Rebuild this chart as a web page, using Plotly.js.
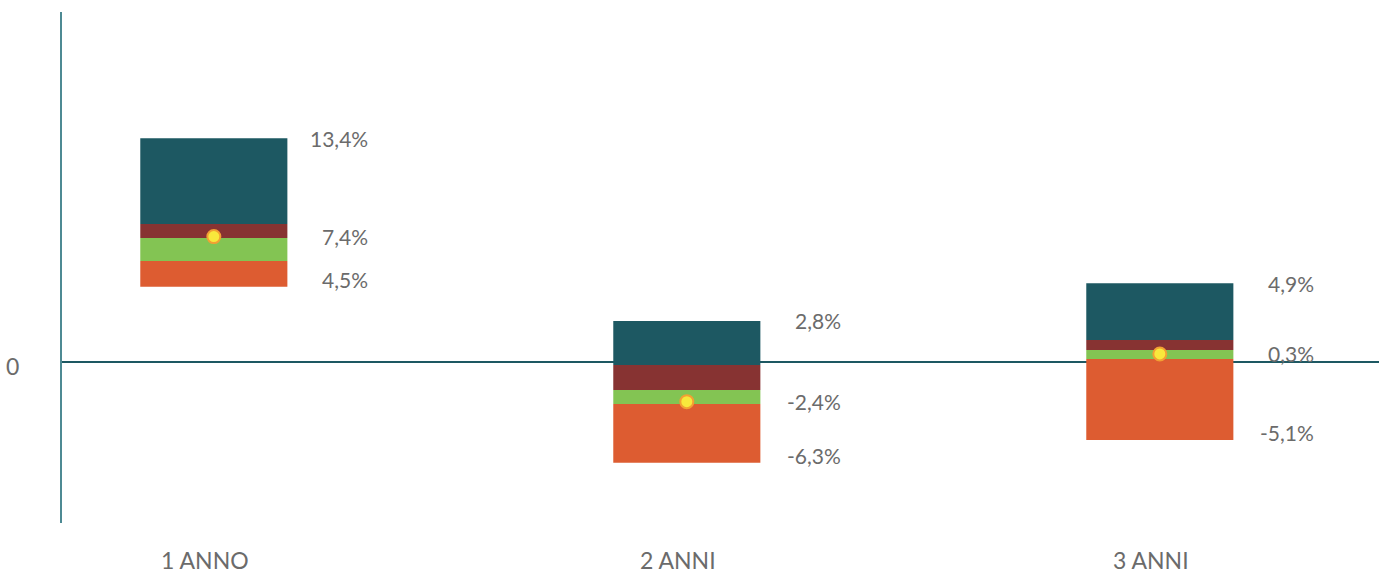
<!DOCTYPE html>
<html>
<head>
<meta charset="utf-8">
<script src="https://cdn.plot.ly/plotly-3.0.1.min.js"></script>
<style>
html,body{margin:0;padding:0;background:#fff;}
#chart{width:1379px;height:576px;}
</style>
</head>
<body>
<div id="chart"></div>
<script>
// Categories
var categories = ['1 ANNO', '2 ANNI', '3 ANNI'];
// Segment boundaries (%)
var lowEdge   = [4.50, -6.02, -4.66];   // bottom of orange
var q1Edge    = [6.03, -2.51, 0.18];    // orange -> green
var midEdge   = [7.41, -1.67, 0.72];    // green -> dark red
var q3Edge    = [8.24, -0.18, 1.31];    // dark red -> teal
var highEdge  = [13.36, 2.45, 4.70];    // top of teal
var pointVal  = [7.49, -2.37, 0.48];    // yellow dot
// Label texts
var highLabels = ['13,4%', '2,8%', '4,9%'];
var midLabels  = ['7,4%', '-2,4%', '0,3%'];
var lowLabels  = ['4,5%', '-6,3%', '-5,1%'];

var xIdx = categories.map(function(_, i){ return i; });
function diff(a, b){ return a.map(function(v, i){ return v - b[i]; }); }

var barW = 0.311;
var segs = [
  {base: lowEdge, top: q1Edge,  color: '#dd5c31'},
  {base: q1Edge,  top: midEdge, color: '#83c453'},
  {base: midEdge, top: q3Edge,  color: '#873332'},
  {base: q3Edge,  top: highEdge, color: '#1d5862'}
];
var traces = segs.map(function(s){
  return {
    type: 'bar', x: xIdx, base: s.base, y: diff(s.top, s.base),
    width: barW, marker: {color: s.color, line: {width: 0}},
    hoverinfo: 'skip', showlegend: false
  };
});
traces.push({
  type: 'scatter', mode: 'markers', x: xIdx, y: pointVal,
  marker: {size: 13, color: '#f8e83c', line: {color: '#f2a033', width: 2}},
  hoverinfo: 'skip', showlegend: false
});

var labelFont = {family: 'Lato, "Open Sans", sans-serif', size: 21, color: '#6b6b6b'};
var tickFont = {family: 'Lato, "Open Sans", sans-serif', size: 23, color: '#6b6b6b'};
var annotations = [];
xIdx.forEach(function(i){
  annotations.push({x: i, y: highEdge[i], text: highLabels[i], showarrow: false,
    xanchor: 'right', yanchor: 'middle', xshift: 156, yshift: 0, font: labelFont});
  annotations.push({x: i, y: pointVal[i], text: midLabels[i], showarrow: false,
    xanchor: 'right', yanchor: 'middle', xshift: 156, yshift: 0, font: labelFont});
  annotations.push({x: i, y: lowEdge[i], text: lowLabels[i], showarrow: false,
    xanchor: 'right', yanchor: 'middle', xshift: 156, yshift: 7, font: labelFont});
});

var layout = {
  width: 1379, height: 576,
  margin: {l: 62, r: 0, t: 12, b: 53},
  paper_bgcolor: '#ffffff', plot_bgcolor: '#ffffff',
  barmode: 'overlay',
  xaxis: {
    range: [-0.321, 2.4634],
    tickvals: xIdx, ticktext: categories,
    showgrid: false, zeroline: false, showline: false, ticks: '',
    ticklabelstandoff: 22, ticklabelshift: -9,
    tickfont: tickFont
  },
  yaxis: {
    range: [-9.62, 20.91],
    tickvals: [0], ticktext: ['0'],
    showgrid: false,
    zeroline: true, zerolinecolor: '#1d5862', zerolinewidth: 1.5,
    showline: true, linecolor: '#4d8a93', linewidth: 2,
    ticks: '', ticklabelstandoff: 36, ticklabelshift: 5,
    tickfont: tickFont
  },
  annotations: annotations,
  font: labelFont
};

Plotly.newPlot('chart', traces, layout, {displayModeBar: false, staticPlot: true});
</script>
</body>
</html>
